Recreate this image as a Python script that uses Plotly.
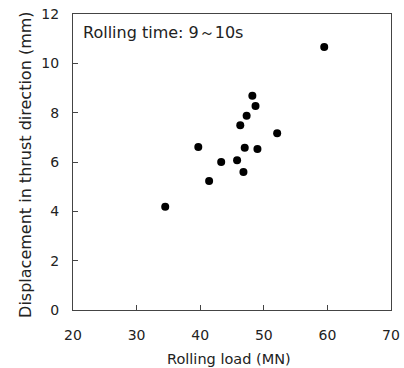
import plotly.graph_objects as go

rolling_load = [34.5, 39.7, 41.4, 43.3, 45.8, 46.3, 46.8, 47.0, 47.3, 48.2, 48.7, 49.0, 52.1, 59.5]
displacement = [4.19, 6.61, 5.23, 6.00, 6.07, 7.49, 5.59, 6.58, 7.88, 8.69, 8.27, 6.53, 7.17, 10.66]
x_ticks = [20, 30, 40, 50, 60, 70]
y_ticks = [0, 2, 4, 6, 8, 10, 12]

font_family = "DejaVu Sans"
axis_color = "#444444"
text_color = "#222222"

fig = go.Figure()
fig.add_trace(go.Scatter(
    x=rolling_load, y=displacement, mode="markers",
    marker=dict(color="black", size=8),
    showlegend=False,
))

fig.update_layout(
    width=404, height=368,
    margin=dict(l=73, r=13, t=14, b=58),
    paper_bgcolor="white", plot_bgcolor="white",
    font=dict(family=font_family, size=14, color=text_color),
    annotations=[
        dict(text="Rolling time: 9～10s", xref="paper", yref="paper",
             x=0.026, y=0.936, xanchor="left", yanchor="middle", showarrow=False,
             font=dict(family=font_family, size=16, color=text_color)),
        dict(text="Rolling load (MN)", xref="paper", yref="paper",
             x=0.49, y=-0.165, xanchor="center", yanchor="middle", showarrow=False,
             font=dict(family=font_family, size=14.5, color=text_color)),
        dict(text="Displacement in thrust direction (mm)", xref="paper", yref="paper",
             x=-0.148, y=0.49, xanchor="center", yanchor="middle", showarrow=False,
             textangle=-90,
             font=dict(family=font_family, size=16, color=text_color)),
    ],
)
fig.update_xaxes(
    range=[20, 70], tickmode="array", tickvals=x_ticks, automargin=False,
    showgrid=False, zeroline=False, showline=True, linecolor=axis_color, linewidth=1.3,
    mirror=True, ticks="inside", ticklen=5, tickcolor=axis_color,
    tickfont=dict(size=14), ticklabelstandoff=12,
)
fig.update_yaxes(
    range=[0, 12], tickmode="array", tickvals=y_ticks, automargin=False,
    showgrid=False, zeroline=False, showline=True, linecolor=axis_color, linewidth=1.3,
    mirror=True, ticks="inside", ticklen=5, tickcolor=axis_color,
    tickfont=dict(size=14), ticklabelstandoff=10,
)

fig.write_html("out.html", config={"displayModeBar": False},
               post_script="document.body.style.margin='0';")
